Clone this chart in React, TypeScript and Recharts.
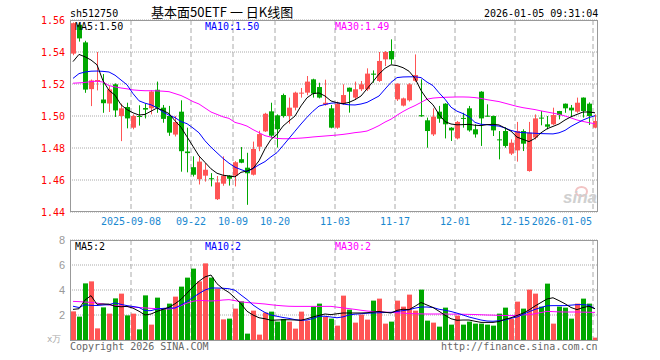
import React from 'react';
import { ComposedChart, Bar, Line, XAxis, YAxis, CartesianGrid } from 'recharts';

const UP = '#ff5555';
const DOWN = '#00a800';
const GRID = '#aaaaaa';
const MONO = '"DejaVu Sans Mono", monospace';

const dates = [
  '2025-08-25', '2025-08-26', '2025-08-27', '2025-08-28', '2025-08-29',
  '2025-09-01', '2025-09-02', '2025-09-03', '2025-09-04', '2025-09-05',
  '2025-09-08', '2025-09-09', '2025-09-10', '2025-09-11', '2025-09-12',
  '2025-09-15', '2025-09-16', '2025-09-17', '2025-09-18', '2025-09-19',
  '2025-09-22', '2025-09-23', '2025-09-24', '2025-09-25', '2025-09-26',
  '2025-09-29', '2025-09-30', '2025-10-09', '2025-10-10',
  '2025-10-13', '2025-10-14', '2025-10-15', '2025-10-16', '2025-10-17',
  '2025-10-20', '2025-10-21', '2025-10-22', '2025-10-23', '2025-10-24',
  '2025-10-27', '2025-10-28', '2025-10-29', '2025-10-30', '2025-10-31',
  '2025-11-03', '2025-11-04', '2025-11-05', '2025-11-06', '2025-11-07',
  '2025-11-10', '2025-11-11', '2025-11-12', '2025-11-13', '2025-11-14',
  '2025-11-17', '2025-11-18', '2025-11-19', '2025-11-20', '2025-11-21',
  '2025-11-24', '2025-11-25', '2025-11-26', '2025-11-27', '2025-11-28',
  '2025-12-01', '2025-12-02', '2025-12-03', '2025-12-04', '2025-12-05',
  '2025-12-08', '2025-12-09', '2025-12-10', '2025-12-11', '2025-12-12',
  '2025-12-15', '2025-12-16', '2025-12-17', '2025-12-18', '2025-12-19',
  '2025-12-22', '2025-12-23', '2025-12-24', '2025-12-25', '2025-12-26',
  '2025-12-29', '2025-12-30', '2025-12-31', '2026-01-05',
];

const openPx = [
  1.539, 1.557, 1.546, 1.5168, 1.5215, 1.5103, 1.5078, 1.5198, 1.5, 1.5056,
  1.4927, 1.5, 1.505, 1.5048, 1.5164, 1.5052, 1.5, 1.4884, 1.5027, 1.4778,
  1.468, 1.4605, 1.4627, 1.4611, 1.448, 1.4577, 1.4627, 1.4627, 1.473, 1.4677,
  1.4633, 1.4808, 1.4904, 1.5029, 1.5004, 1.5131, 1.5, 1.5052, 1.514, 1.5146,
  1.5229, 1.5181, 1.5071, 1.5048, 1.4927, 1.5077, 1.5177, 1.5115, 1.5167, 1.5167,
  1.5265, 1.5219, 1.5354, 1.5406, 1.5104, 1.5065, 1.5098, 1.522, 1.5005, 1.4973,
  1.4885, 1.5027, 1.5077, 1.4927, 1.486, 1.4988, 1.5048, 1.4917, 1.5152, 1.5002,
  1.5, 1.4854, 1.4906, 1.4765, 1.4785, 1.4906, 1.4656, 1.4865, 1.499, 1.4948,
  1.4948, 1.5031, 1.5077, 1.5052, 1.5027, 1.5115, 1.5077, 1.4927,
];
const highPx = [
  1.5585, 1.558, 1.547, 1.5228, 1.54, 1.5262, 1.5187, 1.5204, 1.5077, 1.5083,
  1.501, 1.5067, 1.5077, 1.516, 1.5215, 1.5069, 1.5063, 1.5, 1.5098, 1.4927,
  1.4748, 1.4748, 1.4706, 1.4643, 1.4625, 1.4748, 1.463, 1.4718, 1.4806, 1.477,
  1.484, 1.4908, 1.502, 1.5083, 1.501, 1.514, 1.5115, 1.5152, 1.5175, 1.525,
  1.5233, 1.5208, 1.5227, 1.5069, 1.509, 1.5198, 1.5178, 1.5215, 1.5219, 1.5298,
  1.5285, 1.54, 1.5406, 1.5479, 1.5204, 1.5115, 1.5205, 1.5385, 1.5229, 1.499,
  1.5048, 1.5063, 1.508, 1.493, 1.4969, 1.502, 1.5063, 1.4948, 1.5155, 1.5073,
  1.5003, 1.4906, 1.493, 1.4854, 1.4963, 1.4917, 1.4963, 1.501, 1.5031, 1.5,
  1.5052, 1.5032, 1.5078, 1.5069, 1.5115, 1.5116, 1.5085, 1.501,
];
const lowPx = [
  1.538, 1.5465, 1.5145, 1.5062, 1.516, 1.502, 1.5025, 1.4994, 1.4843, 1.4923,
  1.4917, 1.494, 1.4985, 1.501, 1.502, 1.4958, 1.4876, 1.4872, 1.4652, 1.4648,
  1.4622, 1.4572, 1.459, 1.456, 1.4475, 1.4564, 1.4565, 1.456, 1.4705, 1.4445,
  1.4628, 1.478, 1.49, 1.4865, 1.4803, 1.499, 1.4952, 1.5035, 1.5115, 1.513,
  1.5115, 1.511, 1.5065, 1.4923, 1.492, 1.507, 1.5021, 1.51, 1.5156, 1.5156,
  1.5208, 1.5213, 1.5312, 1.5323, 1.5094, 1.506, 1.509, 1.5213, 1.4995, 1.4802,
  1.4875, 1.4958, 1.486, 1.4844, 1.4854, 1.4927, 1.4902, 1.4865, 1.4813, 1.4996,
  1.4875, 1.4729, 1.4802, 1.4756, 1.4715, 1.4781, 1.4652, 1.4854, 1.4942, 1.4917,
  1.4944, 1.4979, 1.502, 1.4994, 1.502, 1.499, 1.4944, 1.4923,
];
const closePx = [
  1.558, 1.5485, 1.5165, 1.5222, 1.5225, 1.508, 1.5166, 1.5035, 1.5048, 1.4985,
  1.5, 1.4995, 1.504, 1.5153, 1.5052, 1.4982, 1.4896, 1.4962, 1.478, 1.4768,
  1.4633, 1.4715, 1.4664, 1.4605, 1.4585, 1.4627, 1.4608, 1.4711, 1.4708, 1.4642,
  1.4794, 1.4887, 1.5014, 1.4877, 1.4917, 1.5, 1.5052, 1.5146, 1.5146, 1.5215,
  1.514, 1.5115, 1.5083, 1.4927, 1.5077, 1.5131, 1.5152, 1.5167, 1.5198, 1.5265,
  1.5258, 1.5344, 1.54, 1.5354, 1.5202, 1.511, 1.5198, 1.5256, 1.4998, 1.4906,
  1.4996, 1.4983, 1.4948, 1.491, 1.4963, 1.4983, 1.491, 1.4885, 1.4985, 1.4998,
  1.491, 1.4848, 1.4813, 1.4833, 1.4906, 1.4827, 1.4896, 1.4985, 1.4985, 1.4933,
  1.5006, 1.5006, 1.5048, 1.5035, 1.5083, 1.5031, 1.5, 1.4969,
];

// moving averages as drawn on the reference
const ma5 = [
  1.534, 1.5385, 1.537, 1.535, 1.532, 1.522, 1.516, 1.513, 1.507, 1.504,
  1.502, 1.5006, 1.501, 1.503, 1.505, 1.5035, 1.5015, 1.497, 1.493, 1.487,
  1.481, 1.475, 1.471, 1.467, 1.4642, 1.463, 1.4625, 1.462, 1.4648, 1.4656,
  1.4672, 1.472, 1.4795, 1.4854, 1.4885, 1.4937, 1.4969, 1.5, 1.5063, 1.5114,
  1.514, 1.5144, 1.5125, 1.5094, 1.5083, 1.5077, 1.5085, 1.5102, 1.5125, 1.517,
  1.5215, 1.5262, 1.5298, 1.532, 1.5315, 1.5302, 1.528, 1.5235, 1.516, 1.5105,
  1.507, 1.501, 1.4965, 1.495, 1.4945, 1.4946, 1.4948, 1.4942, 1.494, 1.4946,
  1.4948, 1.4944, 1.4925, 1.4905, 1.4868, 1.4854, 1.484, 1.486, 1.4895, 1.492,
  1.4935, 1.495, 1.4975, 1.4995, 1.501, 1.5025, 1.5025, 1.502,
];
const ma10 = [
  1.5235, 1.5265, 1.5275, 1.528, 1.5281, 1.5279, 1.5275, 1.5255, 1.5225, 1.5195,
  1.514, 1.5095, 1.508, 1.507, 1.5052, 1.5025, 1.5005, 1.499, 1.4965, 1.4952,
  1.4925, 1.4895, 1.4845, 1.4805, 1.477, 1.4735, 1.4705, 1.468, 1.4665, 1.4652,
  1.4672, 1.4695, 1.4715, 1.4745, 1.4771, 1.4815, 1.486, 1.4905, 1.495, 1.4992,
  1.503, 1.5062, 1.5072, 1.508, 1.5083, 1.5075, 1.507, 1.5069, 1.5075, 1.5085,
  1.5105, 1.5125, 1.5168, 1.521, 1.524, 1.5244, 1.5245, 1.5245, 1.524, 1.5212,
  1.519, 1.5145, 1.5105, 1.5055, 1.503, 1.5015, 1.4995, 1.496, 1.4948, 1.4946,
  1.494, 1.4937, 1.4925, 1.491, 1.49, 1.4896, 1.4894, 1.4892, 1.489, 1.4889,
  1.4888, 1.4895, 1.491, 1.4935, 1.4955, 1.4975, 1.499, 1.5002,
];
const ma30 = [
  1.5205, 1.5207, 1.521, 1.5215, 1.5218, 1.5212, 1.519, 1.5182, 1.5175, 1.517,
  1.5163, 1.516, 1.5158, 1.5158, 1.5157, 1.5155, 1.5152, 1.514, 1.5128, 1.511,
  1.509, 1.5075, 1.505, 1.5025, 1.501, 1.4995, 1.4985, 1.496, 1.495, 1.4937,
  1.4915, 1.4896, 1.4877, 1.4868, 1.486, 1.4858, 1.4858, 1.486, 1.4862, 1.4865,
  1.4869, 1.4872, 1.4875, 1.4878, 1.4881, 1.4885, 1.489, 1.4896, 1.49, 1.4906,
  1.4922, 1.494, 1.4962, 1.498, 1.5005, 1.5028, 1.5048, 1.5065, 1.5085, 1.5105,
  1.5112, 1.5115, 1.5117, 1.5118, 1.5119, 1.5119, 1.5118, 1.5115, 1.511, 1.5102,
  1.5096, 1.509, 1.508, 1.507, 1.506, 1.5052, 1.5046, 1.504, 1.5032, 1.5025,
  1.5018, 1.501, 1.5, 1.4988, 1.4975, 1.4966, 1.4958, 1.4952,
];

// volume, 万手
const volume = [
  2.29, 1.87, 4.53, 4.69, 0.93, 2.61, 2.11, 3.33, 3.71, 1.97,
  2.11, 0.85, 3.57, 1.23, 3.39, 2.53, 2.91, 3.47, 4.27, 4.99,
  5.71, 4.69, 6.13, 4.99, 4.11, 1.65, 1.71, 2.51, 3.09, 0.51,
  2.35, 0.43, 2.19, 2.27, 1.47, 1.68, 1.47, 0.91, 2.27, 1.55,
  2.67, 2.91, 1.84, 1.71, 1.15, 3.55, 2.43, 1.39, 2.03, 1.63,
  3.15, 3.31, 1.31, 1.47, 3.15, 2.67, 3.63, 2.35, 4.03, 1.55,
  1.39, 1.07, 2.59, 1.23, 1.95, 1.23, 1.47, 1.31, 1.31, 1.23,
  1.15, 2.11, 2.59, 1.71, 3.07, 2.51, 4.03, 3.71, 2.67, 4.51,
  1.31, 2.67, 2.59, 1.71, 2.91, 3.31, 2.91, 0.19,
];
const volMa5 = [
  2.45, 2.5, 3.2, 3.55, 2.85, 2.88, 2.87, 2.7, 2.66, 2.69,
  2.55, 2.3, 2.0, 2.08, 2.29, 2.45, 2.62, 2.9, 3.25, 3.75,
  4.25, 4.7, 5.05, 5.2, 4.5, 4.1, 3.8, 3.38, 2.9, 2.3,
  2.0, 1.78, 1.7, 1.58, 1.6, 1.62, 1.62, 1.6, 1.58, 1.7,
  1.85, 1.97, 2.08, 2.03, 2.1, 2.16, 2.16, 2.16, 2.16, 2.18,
  2.24, 2.28, 2.22, 2.16, 2.37, 2.46, 2.43, 2.7, 3.0, 2.8,
  2.6, 2.3, 1.98, 1.7, 1.58, 1.6, 1.6, 1.5, 1.41, 1.41,
  1.41, 1.48, 1.66, 1.78, 1.96, 2.15, 2.4, 2.72, 3.0, 3.28,
  3.38, 3.15, 2.9, 2.6, 2.43, 2.6, 2.7, 2.5,
];
const volMa10 = [
  2.7, 2.6, 2.82, 2.77, 2.76, 2.8, 2.83, 2.97, 2.85, 2.75,
  2.68, 2.6, 2.35, 2.35, 2.48, 2.53, 2.56, 2.56, 2.8, 3.08,
  3.4, 3.72, 4.0, 4.16, 4.16, 4.14, 4.1, 3.98, 3.6, 3.24,
  2.8, 2.48, 2.2, 2.0, 1.9, 1.8, 1.73, 1.63, 1.57, 1.6,
  1.72, 1.9, 1.9, 1.84, 1.78, 1.85, 2.0, 2.07, 2.1, 2.14,
  2.16, 2.18, 2.2, 2.21, 2.28, 2.35, 2.42, 2.55, 2.64, 2.64,
  2.6, 2.46, 2.38, 2.28, 2.15, 2.0, 1.84, 1.72, 1.6, 1.52,
  1.5, 1.54, 1.6, 1.74, 1.84, 2.05, 2.26, 2.45, 2.6, 2.74,
  2.75, 2.75, 2.75, 2.79, 2.83, 2.83, 2.78, 2.5,
];
const volMa30 = [
  3.09, 3.07, 3.04, 3.01, 2.95, 2.88, 2.8, 2.75, 2.71, 2.67,
  2.64, 2.6, 2.57, 2.53, 2.51, 2.49, 2.48, 2.55, 2.75, 2.95,
  3.1, 3.17, 3.15, 3.12, 3.15, 3.2, 3.23, 3.15, 3.05, 3.0,
  2.96, 2.92, 2.88, 2.82, 2.77, 2.73, 2.7, 2.69, 2.69, 2.69,
  2.69, 2.69, 2.69, 2.69, 2.63, 2.57, 2.51, 2.45, 2.38, 2.32,
  2.28, 2.26, 2.23, 2.21, 2.18, 2.15, 2.12, 2.1, 2.09, 2.08,
  2.08, 2.08, 2.08, 2.07, 2.07, 2.06, 2.05, 2.04, 2.02, 2.0,
  1.99, 1.97, 1.96, 1.95, 1.98, 2.01, 2.03, 2.1, 2.2, 2.29,
  2.27, 2.25, 2.24, 2.24, 2.24, 2.23, 2.22, 2.21,
];

const tickDates = ['2025-09-08', '2025-09-22', '2025-10-09', '2025-10-20', '2025-11-03', '2025-11-17', '2025-12-01', '2025-12-15', '2026-01-05'];
const tickLabels = ['2025-09-08', '09-22', '10-09', '10-20', '11-03', '11-17', '12-01', '12-15', '2026-01-05'];
const priceTicks = [1.44, 1.46, 1.48, 1.5, 1.52, 1.54, 1.56];
const volTicks = [0, 2, 4, 6, 8];

const rows = dates.map((date, i) => ({
  date,
  open: openPx[i],
  high: highPx[i],
  low: lowPx[i],
  close: closePx[i],
  range: [lowPx[i], highPx[i]],
  ma5: ma5[i],
  ma10: ma10[i],
  ma30: ma30[i],
  vol: volume[i],
  vma5: volMa5[i],
  vma10: volMa10[i],
  vma30: volMa30[i],
}));

const colorOf = (d: any) => (d.close >= d.open ? UP : DOWN);

const Candle = (props: any) => {
  const { x, y, width, height, payload } = props;
  if (x == null || !payload) return null;
  let top = y;
  let h = height;
  if (h < 0) {
    top = y + h;
    h = -h;
  }
  const { open, close, high, low } = payload;
  const k = h / (high - low);
  const bx = Math.floor(x);
  const bw = Math.round(width);
  const bodyTop = top + (high - Math.max(open, close)) * k;
  const bodyH = Math.max(1, Math.abs(close - open) * k);
  const c = colorOf(payload);
  return (
    <g>
      <rect x={bx + Math.floor(bw / 2)} y={top} width={1} height={h} fill={c} />
      <rect x={bx} y={bodyTop} width={bw} height={bodyH} fill={c} />
    </g>
  );
};

const VolBar = (props: any) => {
  const { x, y, width, height, payload } = props;
  if (x == null || !payload) return null;
  return <rect x={Math.floor(x)} y={y} width={Math.round(width)} height={Math.max(0, height)} fill={colorOf(payload)} />;
};

const dateLines = ({ xAxis, offset }: any) => {
  const s = xAxis && xAxis.scale;
  return tickDates.map((d) => {
    const v = typeof s === 'function' ? s(d) : undefined;
    if (typeof v === 'number' && !isNaN(v)) return v + 1;
    return offset.left + (offset.width * dates.indexOf(d)) / dates.length + 1;
  });
};

const DateTick = (props: any) => {
  const { x, y, payload } = props;
  const idx = tickDates.indexOf(payload.value);
  const half = typeof payload.offset === 'number' ? payload.offset : 3;
  const last = idx === tickDates.length - 1;
  return (
    <text
      x={x - half + (last ? 0 : 1)}
      y={y}
      dy="0.71em"
      textAnchor={last ? 'end' : 'middle'}
      fill="#1a88d0"
      fontSize={10}
      fontFamily={MONO}
    >
      {tickLabels[idx]}
    </text>
  );
};

const label = (left: number, top: number, color: string, text: string, extra: any = {}) => (
  <div
    style={{
      position: 'absolute',
      left,
      top,
      color,
      font: `10px ${MONO}`,
      lineHeight: '11px',
      whiteSpace: 'pre',
      ...extra,
    }}
  >
    {text}
  </div>
);

export default function App() {
  return (
    <div style={{ position: 'absolute', left: 0, top: 0, width: 660, height: 360, background: '#fff', overflow: 'hidden' }}>
      <div style={{ position: 'absolute', left: 0, top: 0 }}>
        <ComposedChart width={660} height={232} data={rows} margin={{ top: 20, right: 62, bottom: 0, left: 0 }}>
          <CartesianGrid vertical={false} stroke={GRID} strokeDasharray="1 1" />
          <CartesianGrid horizontal={false} stroke={GRID} strokeDasharray="5 3" verticalCoordinatesGenerator={dateLines} />
          <XAxis
            dataKey="date"
            ticks={tickDates}
            interval={0}
            height={20}
            axisLine={false}
            tickLine={false}
            tickSize={0}
            tickMargin={6}
            tick={<DateTick />}
          />
          <YAxis
            domain={[1.44, 1.56]}
            ticks={priceTicks}
            allowDataOverflow
            width={70}
            axisLine={false}
            tickLine={false}
            tickSize={0}
            tickMargin={5}
            tickFormatter={(v: number) => v.toFixed(2)}
            tick={{ fill: '#ff0000', fontSize: 10, fontFamily: MONO }}
          />
          <Bar dataKey="range" barSize={5} shape={<Candle />} isAnimationActive={false} />
          <Line dataKey="ma30" stroke="#ff00ff" strokeWidth={1} dot={false} activeDot={false} isAnimationActive={false} />
          <Line dataKey="ma10" stroke="#0000ff" strokeWidth={1} dot={false} activeDot={false} isAnimationActive={false} />
          <Line dataKey="ma5" stroke="#000000" strokeWidth={1} dot={false} activeDot={false} isAnimationActive={false} />
        </ComposedChart>
      </div>
      <div style={{ position: 'absolute', left: 0, top: 232 }}>
        <ComposedChart width={660} height={108} data={rows} margin={{ top: 8, right: 62, bottom: 0, left: 0 }}>
          <CartesianGrid vertical={false} stroke={GRID} strokeDasharray="1 1" />
          <CartesianGrid horizontal={false} stroke={GRID} strokeDasharray="5 3" verticalCoordinatesGenerator={dateLines} />
          <XAxis dataKey="date" hide />
          <YAxis
            domain={[0, 8]}
            ticks={volTicks}
            width={70}
            axisLine={false}
            tickLine={false}
            tickSize={0}
            tickMargin={5}
            tickFormatter={(v: number) => (v === 0 ? '' : String(v))}
            tick={{ fill: '#999999', fontSize: 11, fontFamily: '"Liberation Sans", sans-serif' }}
          />
          <Bar dataKey="vol" barSize={5} shape={<VolBar />} isAnimationActive={false} />
          <Line dataKey="vma30" stroke="#ff00ff" strokeWidth={1} dot={false} activeDot={false} isAnimationActive={false} />
          <Line dataKey="vma10" stroke="#0000ff" strokeWidth={1} dot={false} activeDot={false} isAnimationActive={false} />
          <Line dataKey="vma5" stroke="#000000" strokeWidth={1} dot={false} activeDot={false} isAnimationActive={false} />
        </ComposedChart>
      </div>

      {/* frames */}
      <div style={{ position: 'absolute', left: 70, top: 20, width: 528, height: 192, boxSizing: 'border-box', border: '1px solid #999' }} />
      <div style={{ position: 'absolute', left: 70, top: 240, width: 528, height: 101, boxSizing: 'border-box', border: '1px solid #999' }} />

      {/* header */}
      {label(70, 8, '#000', 'sh512750')}
      <div
        style={{
          position: 'absolute',
          left: 151,
          top: 5,
          font: '13px "Noto Sans CJK SC", sans-serif',
          lineHeight: '14px',
          color: '#000',
          whiteSpace: 'pre',
        }}
      >
        基本面50ETF 一 日K线图
      </div>
      {label(484, 8, '#000', '2026-01-05 09:31:04')}

      {/* legends */}
      {label(75, 21, '#000', 'MA5:1.50')}
      {label(205, 21, '#0000ff', 'MA10:1.50')}
      {label(335, 21, '#ff00ff', 'MA30:1.49')}
      {label(75, 241, '#000', 'MA5:2')}
      {label(205, 241, '#0000ff', 'MA10:2')}
      {label(335, 241, '#ff00ff', 'MA30:2')}

      {/* footer */}
      {label(47, 334, '#aaa', 'x万', { fontSize: 9 })}
      {label(70, 341, '#666', 'Copyright 2026 SINA.COM')}
      {label(441, 341, '#666', 'http://finance.sina.com.cn')}

      {/* watermark */}
      <div style={{ position: 'absolute', left: 575, top: 186, width: 9, height: 7, borderRadius: '50%', border: '2px solid #f2c4c4' }} />
      <div
        style={{
          position: 'absolute',
          left: 563,
          top: 189,
          font: 'italic bold 17px "Liberation Sans", sans-serif',
          color: '#d0d0d0',
          lineHeight: '18px',
        }}
      >
        sina
      </div>
    </div>
  );
}
